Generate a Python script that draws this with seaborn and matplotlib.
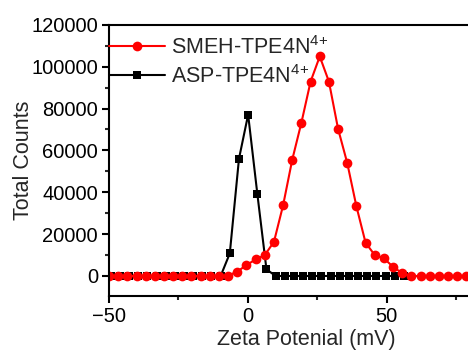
import numpy as np
import pandas as pd
import matplotlib
matplotlib.use('Agg')
import matplotlib.pyplot as plt
from matplotlib.ticker import MultipleLocator
import seaborn as sns

# zeta potential bins (mV)
smeh_x = [-50.0, -46.7, -43.4, -40.1, -36.8, -33.5, -30.2, -26.9, -23.6, -20.3,
          -17.0, -13.7, -10.4, -7.1, -3.8, -0.5, 2.8, 6.1, 9.4, 12.7,
          16.0, 19.3, 22.6, 25.9, 29.2, 32.5, 35.8, 39.1, 42.4, 45.7,
          49.0, 52.3, 55.6, 58.9, 62.2, 65.5, 68.8, 72.1, 75.4, 78.7]
smeh_y = [0, 0, 0, 0, 0, 0, 0, 0, 0, 0,
          0, 0, 0, 200, 2100, 5200, 7900, 10000, 16300, 33800,
          55600, 73300, 92900, 104900, 92900, 70300, 54000, 33300, 15900, 10000,
          8400, 4400, 1300, 0, 0, 0, 0, 0, 0, 0]

asp_x = [-49.4, -46.1, -42.8, -39.5, -36.2, -32.9, -29.6, -26.3, -23.0, -19.7,
         -16.4, -13.1, -9.8, -6.5, -3.2, 0.1, 3.4, 6.7, 10.0, 13.3,
         16.6, 19.9, 23.2, 26.5, 29.8, 33.1, 36.4, 39.7, 43.0, 46.3,
         49.6, 52.9, 56.2]
asp_y = [0, 0, 0, 0, 0, 0, 0, 0, 0, 0,
         0, 0, 0, 10800, 56000, 77100, 39400, 3200, 0, 0,
         0, 0, 0, 0, 0, 0, 0, 0, 0, 0,
         0, 0, 0]

sns.set_style('ticks')
plt.rcParams['font.family'] = ['Liberation Sans', 'DejaVu Sans']
plt.rcParams['mathtext.fontset'] = 'custom'
plt.rcParams['mathtext.rm'] = 'Liberation Sans'
plt.rcParams['mathtext.it'] = 'Liberation Sans'

fig = plt.figure(figsize=(4.68, 3.55), dpi=100)
ax = fig.add_axes([0.233, 0.166, 0.767, 0.764])

df_asp = pd.DataFrame({'x': asp_x, 'y': asp_y})
df_smeh = pd.DataFrame({'x': smeh_x, 'y': smeh_y})

sns.lineplot(data=df_asp, x='x', y='y', ax=ax, color='black', marker='s',
             markersize=5.5, markeredgewidth=0, linewidth=1.5,
             label='ASP-TPE4N$^{4{+}}$')
sns.lineplot(data=df_smeh, x='x', y='y', ax=ax, color='#ff0000', marker='o',
             markersize=7, markeredgewidth=0, linewidth=1.5,
             label='SMEH-TPE4N$^{4{+}}$')

ax.set_xlim(-50, 79.3)
ax.set_ylim(-9600, 120000)
ax.xaxis.set_major_locator(MultipleLocator(50))
ax.xaxis.set_minor_locator(MultipleLocator(25))
ax.yaxis.set_major_locator(MultipleLocator(20000))
ax.yaxis.set_minor_locator(MultipleLocator(10000))
ax.tick_params(which='major', direction='out', length=5, width=1.5, labelsize=14.5,
               colors='black', pad=3)
ax.tick_params(which='minor', direction='out', length=3, width=1.5)
for s in ['left', 'bottom', 'top']:
    ax.spines[s].set_linewidth(1.5)
    ax.spines[s].set_color('black')
ax.spines['right'].set_visible(False)

ax.set_xlabel('Zeta Potenial (mV)', fontsize=15.5)
ax.set_ylabel('Total Counts', fontsize=15.5)
ax.xaxis.set_label_coords(0.55, -0.12)
ax.yaxis.set_label_coords(-0.21, 0.5)

handles, labels = ax.get_legend_handles_labels()
ax.legend(handles[::-1], labels[::-1], loc='upper left', bbox_to_anchor=(0.0, 0.96),
          frameon=False, borderpad=0, borderaxespad=0, handlelength=2.6,
          handletextpad=0.3, labelspacing=0.3, fontsize=15.5)

fig.savefig('out.png', dpi=100)
